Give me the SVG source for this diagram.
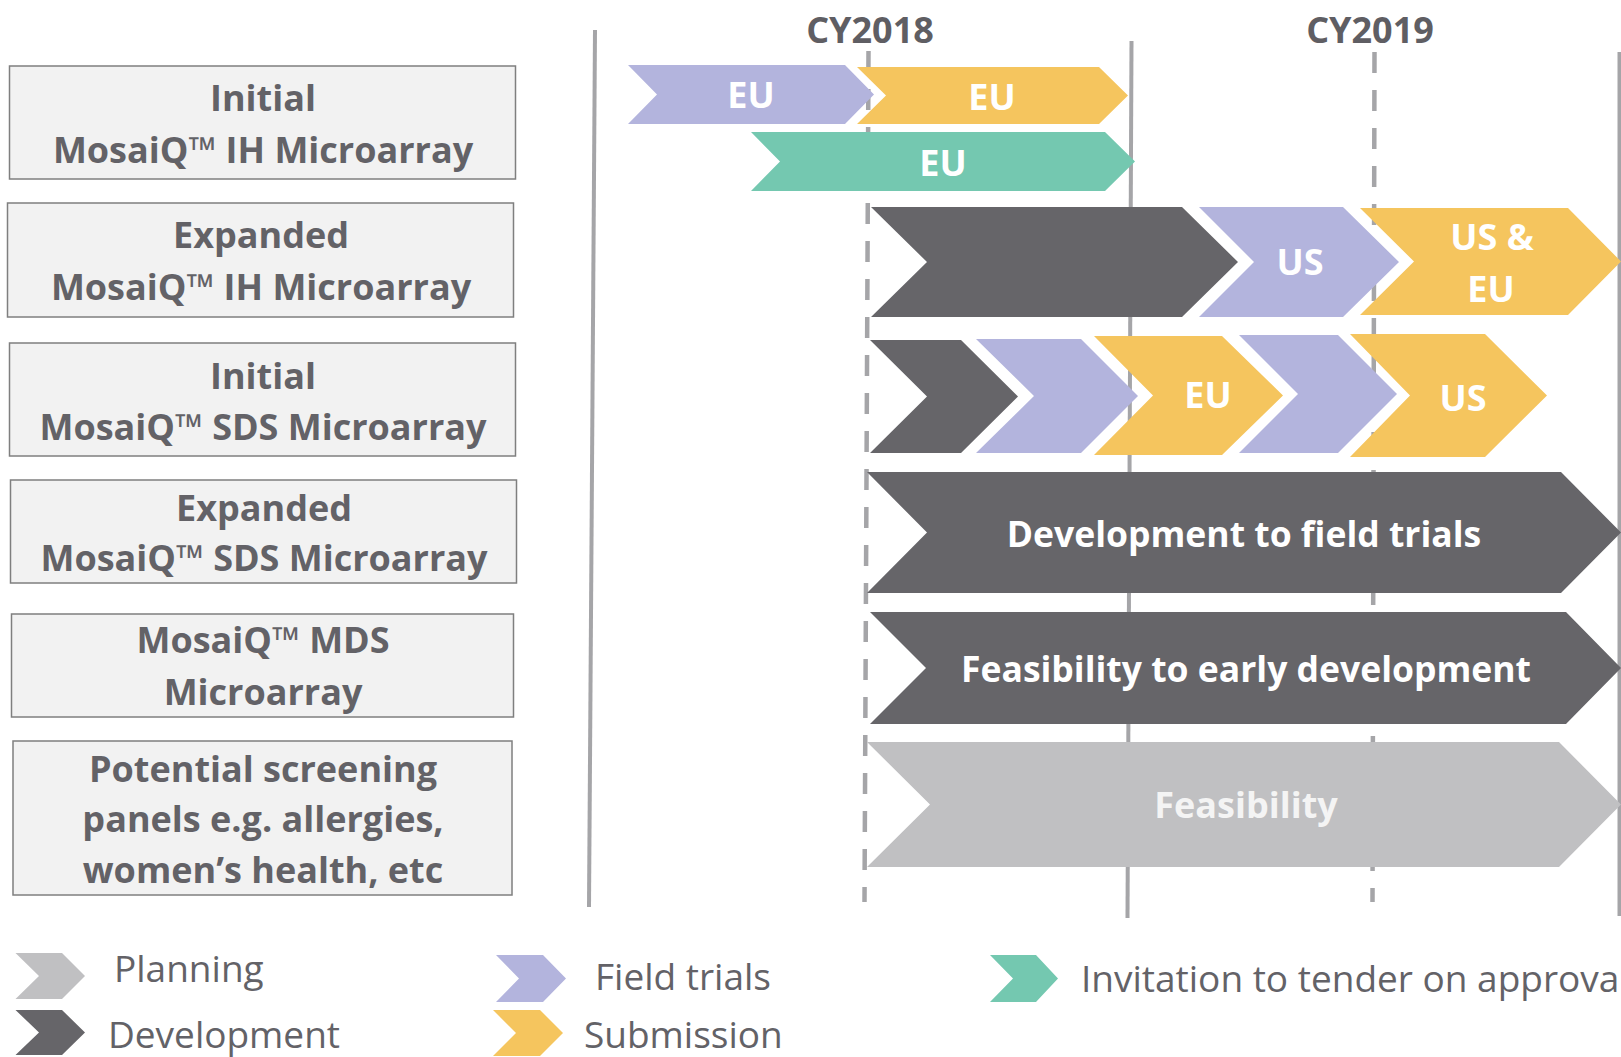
<svg xmlns="http://www.w3.org/2000/svg" width="1621" height="1057" viewBox="0 0 1621 1057">
<style>
  text { font-family: 'Open Sans', 'Noto Sans', 'DejaVu Sans', sans-serif; }
  .box { fill: #F2F2F2; stroke: #7F7F7F; stroke-width: 1.5; }
  .boxtxt { font-size: 36px; font-weight: 700; fill: #636267; text-anchor: middle; }
  .year { font-size: 36px; font-weight: 700; fill: #5F5E63; text-anchor: middle; }
  .solid { stroke: #A5A5A8; stroke-width: 4; fill: none; }
  .dash { stroke: #A5A5A8; stroke-width: 4.5; fill: none; stroke-dasharray: 21 17; }
  .dark { fill: #666569; }
  .lav { fill: #B3B4DD; }
  .yel { fill: #F5C55E; }
  .teal { fill: #74C8B0; }
  .light { fill: #C0C0C2; }
  .wtxt { font-size: 36px; font-weight: 700; fill: #FFFFFF; text-anchor: middle; }
  .wlong { font-size: 35.5px; }
  .ltxt { font-size: 36px; font-weight: 700; fill: #F4F4F4; text-anchor: middle; }
  .legtxt { font-size: 37px; font-weight: 400; fill: #636267; }
</style>
<rect x="0" y="0" width="1621" height="1057" fill="#FFFFFF"/>

<g id="timeline-lines">
  <line class="solid" x1="595" y1="30" x2="589" y2="907"/>
  <line class="dash" x1="868.5" y1="51" x2="864.5" y2="902"/>
  <line class="solid" x1="1131.5" y1="41" x2="1127.5" y2="918"/>
  <line class="dash" x1="1374.5" y1="52" x2="1372.5" y2="902"/>
  <line class="solid" x1="1619.5" y1="52" x2="1619.5" y2="916" stroke-width="3"/>
</g>

<g id="years">
  <text class="year" x="870" y="43">CY2018</text>
  <text class="year" x="1370" y="43">CY2019</text>
</g>

<g id="node-initial-ih">
  <rect class="box" x="9.5" y="66" width="506" height="113"/>
  <text class="boxtxt" x="263" y="111">Initial</text>
  <text class="boxtxt" x="263" y="163">MosaiQ™ IH Microarray</text>
</g>
<g id="node-expanded-ih">
  <rect class="box" x="7.5" y="203" width="506" height="114"/>
  <text class="boxtxt" x="261" y="248">Expanded</text>
  <text class="boxtxt" x="261" y="300">MosaiQ™ IH Microarray</text>
</g>
<g id="node-initial-sds">
  <rect class="box" x="9.5" y="343" width="506" height="113"/>
  <text class="boxtxt" x="263" y="389">Initial</text>
  <text class="boxtxt" x="263" y="440">MosaiQ™ SDS Microarray</text>
</g>
<g id="node-expanded-sds">
  <rect class="box" x="10.5" y="480" width="506" height="103"/>
  <text class="boxtxt" x="264" y="521">Expanded</text>
  <text class="boxtxt" x="264" y="571">MosaiQ™ SDS Microarray</text>
</g>
<g id="node-mds">
  <rect class="box" x="11.5" y="614" width="502" height="103"/>
  <text class="boxtxt" x="263" y="653">MosaiQ™ MDS</text>
  <text class="boxtxt" x="263" y="705">Microarray</text>
</g>
<g id="node-screening">
  <rect class="box" x="13" y="741" width="499" height="154"/>
  <text class="boxtxt" x="263" y="782">Potential screening</text>
  <text class="boxtxt" x="263" y="832">panels e.g. allergies,</text>
  <text class="boxtxt" x="263" y="883">women’s health, etc</text>
</g>

<g id="row1-field-trials-eu">
  <polygon class="lav" points="628,65 845,65 874,94.5 845,124 628,124 657,94.5"/>
  <text class="wtxt" x="751" y="108">EU</text>
</g>
<g id="row1-submission-eu">
  <polygon class="yel" points="857,67 1099,67 1128,95.5 1099,124 857,124 886,95.5"/>
  <text class="wtxt" x="992" y="110">EU</text>
</g>
<g id="row1-tender-eu">
  <polygon class="teal" points="751,132 1105,132 1135,161.5 1105,191 751,191 780,161.5"/>
  <text class="wtxt" x="943" y="176">EU</text>
</g>

<g id="row2-development">
  <polygon class="dark" points="871,207 1182,207 1238,262 1182,317 871,317 927,262"/>
</g>
<g id="row2-field-trials-us">
  <polygon class="lav" points="1199,207 1343,207 1399,262 1343,317 1199,317 1254,262"/>
  <text class="wtxt" x="1300" y="275">US</text>
</g>
<g id="row2-submission-us-eu">
  <polygon class="yel" points="1360,208 1568,208 1621,261.5 1568,315 1360,315 1414,261.5"/>
  <text class="wtxt" x="1492" y="250">US &amp;</text>
  <text class="wtxt" x="1491" y="302">EU</text>
</g>

<g id="row3-development">
  <polygon class="dark" points="870,340 961,340 1018,396.5 961,453 870,453 927,396.5"/>
</g>
<g id="row3-field-trials-1">
  <polygon class="lav" points="976,339 1081,339 1138,396 1081,453 976,453 1034,396"/>
</g>
<g id="row3-submission-eu">
  <polygon class="yel" points="1094,336 1222,336 1283,395.5 1222,455 1094,455 1153,395.5"/>
  <text class="wtxt" x="1208" y="408">EU</text>
</g>
<g id="row3-field-trials-2">
  <polygon class="lav" points="1239,335 1338,335 1397,394 1338,453 1239,453 1298,394"/>
</g>
<g id="row3-submission-us">
  <polygon class="yel" points="1350,334 1485,334 1547,395.5 1485,457 1350,457 1410,395.5"/>
  <text class="wtxt" x="1463" y="411">US</text>
</g>

<g id="row4-development">
  <polygon class="dark" points="867,472 1561,472 1621,532.5 1561,593 867,593 927,532.5"/>
  <text class="wtxt wlong" x="1244" y="547">Development to field trials</text>
</g>
<g id="row5-development">
  <polygon class="dark" points="870,612 1566,612 1621,668 1566,724 870,724 926,668"/>
  <text class="wtxt wlong" x="1246" y="682">Feasibility to early development</text>
</g>
<g id="row6-planning">
  <polygon class="light" points="867,742 1559,742 1621,804.5 1559,867 867,867 930,804.5"/>
  <text class="ltxt" x="1246" y="818">Feasibility</text>
</g>

<g id="legend">
  <g id="legend-planning">
    <polygon class="light" points="15.5,953 62,953 85,976 62,999 15.5,999 39,976"/>
    <text class="legtxt" x="114" y="982">Planning</text>
  </g>
  <g id="legend-development">
    <polygon class="dark" points="15.5,1010 62,1010 85,1032.5 62,1055 15.5,1055 39,1032.5"/>
    <text class="legtxt" x="108" y="1048">Development</text>
  </g>
  <g id="legend-field-trials">
    <polygon class="lav" points="496,955 543,955 566,978.5 543,1002 496,1002 519,978.5"/>
    <text class="legtxt" x="595" y="990">Field trials</text>
  </g>
  <g id="legend-submission">
    <polygon class="yel" points="493,1010 540,1010 563,1033 540,1056 493,1056 516,1033"/>
    <text class="legtxt" x="584" y="1048">Submission</text>
  </g>
  <g id="legend-tender">
    <polygon class="teal" points="990,955 1036,955 1058,978.5 1036,1002 990,1002 1013,978.5"/>
    <text class="legtxt" x="1081" y="992">Invitation to tender on approva</text>
  </g>
</g>
</svg>
